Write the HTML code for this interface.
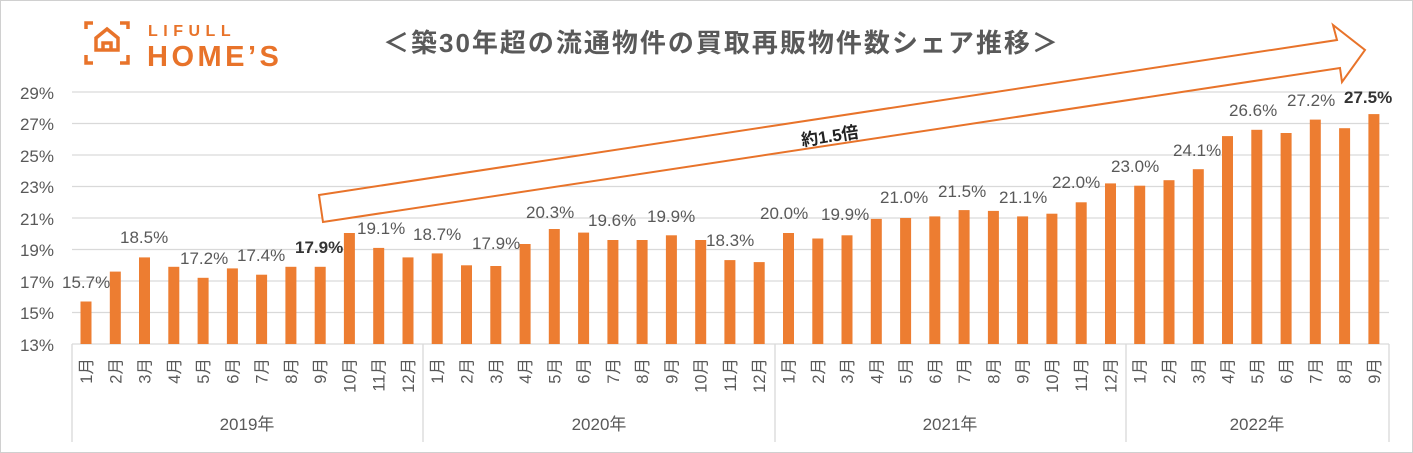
<!DOCTYPE html>
<html><head><meta charset="utf-8"><style>
body{margin:0;background:#fff}
svg{display:block}
text{font-family:"Liberation Sans","Noto Sans CJK JP",sans-serif}
</style></head><body>
<svg width="1413" height="453" xmlns="http://www.w3.org/2000/svg">
<rect x="0.5" y="0.5" width="1412" height="452" fill="#fff" stroke="#d0d0d0"/>
<g stroke="#E8732A" stroke-width="3.5" fill="none">
<path d="M86 29V23H93M120 23H128V29M86 55V63H93M120 63H128V55"/>
<path d="M96 50V38L107 29L118 38V50Z"/>
<path d="M103 50V43H111V50"/>
</g>
<text x="148" y="36" font-size="16" font-weight="bold" fill="#E8732A" letter-spacing="5.5">LIFULL</text>
<text x="147" y="66" font-size="29" font-weight="bold" fill="#E8732A" letter-spacing="3.5">HOME’S</text>
<text x="383" y="52" font-size="26" font-weight="bold" fill="#595959" letter-spacing="2">＜築30年超の流通物件の買取再販物件数シェア推移＞</text>
<g stroke="#d9d9d9" stroke-width="1.3">
<line x1="72" x2="1389" y1="92" y2="92"/><line x1="72" x2="1389" y1="123.5" y2="123.5"/>
<line x1="72" x2="1389" y1="155" y2="155"/><line x1="72" x2="1389" y1="186.5" y2="186.5"/>
<line x1="72" x2="1389" y1="218" y2="218"/><line x1="72" x2="1389" y1="249.5" y2="249.5"/>
<line x1="72" x2="1389" y1="281" y2="281"/><line x1="72" x2="1389" y1="312.5" y2="312.5"/>
<line x1="72" x2="1389" y1="344" y2="344"/>
<line x1="72" x2="72" y1="344" y2="442"/><line x1="423" x2="423" y1="344" y2="442"/>
<line x1="775" x2="775" y1="344" y2="442"/><line x1="1126" x2="1126" y1="344" y2="442"/>
<line x1="1389" x2="1389" y1="344" y2="442"/>
</g>
<g font-size="17" fill="#595959" text-anchor="end">
<text x="54" y="99">29%</text><text x="54" y="130">27%</text><text x="54" y="162">25%</text>
<text x="54" y="193">23%</text><text x="54" y="225">21%</text><text x="54" y="256">19%</text>
<text x="54" y="288">17%</text><text x="54" y="319">15%</text><text x="54" y="351">13%</text>
</g>
<g fill="#ED7D31">
<rect x="80.5" y="301.5" width="11" height="42.5"/>
<rect x="109.8" y="271.6" width="11" height="72.4"/>
<rect x="139" y="257.4" width="11" height="86.6"/>
<rect x="168.3" y="266.8" width="11" height="77.2"/>
<rect x="197.6" y="277.8" width="11" height="66.2"/>
<rect x="226.9" y="268.4" width="11" height="75.6"/>
<rect x="256.1" y="274.7" width="11" height="69.3"/>
<rect x="285.4" y="266.8" width="11" height="77.2"/>
<rect x="314.7" y="266.8" width="11" height="77.2"/>
<rect x="343.9" y="233" width="11" height="111"/>
<rect x="373.2" y="247.9" width="11" height="96.1"/>
<rect x="402.5" y="257.4" width="11" height="86.6"/>
<rect x="431.7" y="253.4" width="11" height="90.6"/>
<rect x="461" y="265.3" width="11" height="78.7"/>
<rect x="490.3" y="266" width="11" height="78"/>
<rect x="519.6" y="244" width="11" height="100"/>
<rect x="548.8" y="229" width="11" height="115"/>
<rect x="578.1" y="232.6" width="11" height="111.4"/>
<rect x="607.4" y="240" width="11" height="104"/>
<rect x="636.6" y="240" width="11" height="104"/>
<rect x="665.9" y="235.3" width="11" height="108.7"/>
<rect x="695.2" y="240" width="11" height="104"/>
<rect x="724.4" y="260.1" width="11" height="83.9"/>
<rect x="753.7" y="262.1" width="11" height="81.9"/>
<rect x="783" y="233" width="11" height="111"/>
<rect x="812.3" y="238.5" width="11" height="105.5"/>
<rect x="841.5" y="235.3" width="11" height="108.7"/>
<rect x="870.8" y="218.9" width="11" height="125.1"/>
<rect x="900.1" y="218" width="11" height="126"/>
<rect x="929.3" y="216.4" width="11" height="127.6"/>
<rect x="958.6" y="210.1" width="11" height="133.9"/>
<rect x="987.9" y="210.9" width="11" height="133.1"/>
<rect x="1017.1" y="216.4" width="11" height="127.6"/>
<rect x="1046.4" y="213.7" width="11" height="130.3"/>
<rect x="1075.7" y="202.3" width="11" height="141.7"/>
<rect x="1105" y="183.4" width="11" height="160.6"/>
<rect x="1134.2" y="185.7" width="11" height="158.3"/>
<rect x="1163.5" y="180.2" width="11" height="163.8"/>
<rect x="1192.8" y="169.2" width="11" height="174.8"/>
<rect x="1222" y="136.1" width="11" height="207.9"/>
<rect x="1251.3" y="129.8" width="11" height="214.2"/>
<rect x="1280.6" y="133" width="11" height="211"/>
<rect x="1309.8" y="119.6" width="11" height="224.4"/>
<rect x="1339.1" y="128.2" width="11" height="215.8"/>
<rect x="1368.4" y="114.1" width="11" height="229.9"/>
</g>
<g font-size="16.5" fill="#595959" text-anchor="end">
<text transform="translate(92,358) rotate(-90)">1月</text>
<text transform="translate(121.3,358) rotate(-90)">2月</text>
<text transform="translate(150.5,358) rotate(-90)">3月</text>
<text transform="translate(179.8,358) rotate(-90)">4月</text>
<text transform="translate(209.1,358) rotate(-90)">5月</text>
<text transform="translate(238.4,358) rotate(-90)">6月</text>
<text transform="translate(267.6,358) rotate(-90)">7月</text>
<text transform="translate(296.9,358) rotate(-90)">8月</text>
<text transform="translate(326.2,358) rotate(-90)">9月</text>
<text transform="translate(355.4,358) rotate(-90)">10月</text>
<text transform="translate(384.7,358) rotate(-90)">11月</text>
<text transform="translate(414,358) rotate(-90)">12月</text>
<text transform="translate(443.2,358) rotate(-90)">1月</text>
<text transform="translate(472.5,358) rotate(-90)">2月</text>
<text transform="translate(501.8,358) rotate(-90)">3月</text>
<text transform="translate(531.1,358) rotate(-90)">4月</text>
<text transform="translate(560.3,358) rotate(-90)">5月</text>
<text transform="translate(589.6,358) rotate(-90)">6月</text>
<text transform="translate(618.9,358) rotate(-90)">7月</text>
<text transform="translate(648.1,358) rotate(-90)">8月</text>
<text transform="translate(677.4,358) rotate(-90)">9月</text>
<text transform="translate(706.7,358) rotate(-90)">10月</text>
<text transform="translate(735.9,358) rotate(-90)">11月</text>
<text transform="translate(765.2,358) rotate(-90)">12月</text>
<text transform="translate(794.5,358) rotate(-90)">1月</text>
<text transform="translate(823.8,358) rotate(-90)">2月</text>
<text transform="translate(853,358) rotate(-90)">3月</text>
<text transform="translate(882.3,358) rotate(-90)">4月</text>
<text transform="translate(911.6,358) rotate(-90)">5月</text>
<text transform="translate(940.8,358) rotate(-90)">6月</text>
<text transform="translate(970.1,358) rotate(-90)">7月</text>
<text transform="translate(999.4,358) rotate(-90)">8月</text>
<text transform="translate(1028.6,358) rotate(-90)">9月</text>
<text transform="translate(1057.9,358) rotate(-90)">10月</text>
<text transform="translate(1087.2,358) rotate(-90)">11月</text>
<text transform="translate(1116.5,358) rotate(-90)">12月</text>
<text transform="translate(1145.7,358) rotate(-90)">1月</text>
<text transform="translate(1175,358) rotate(-90)">2月</text>
<text transform="translate(1204.3,358) rotate(-90)">3月</text>
<text transform="translate(1233.5,358) rotate(-90)">4月</text>
<text transform="translate(1262.8,358) rotate(-90)">5月</text>
<text transform="translate(1292.1,358) rotate(-90)">6月</text>
<text transform="translate(1321.3,358) rotate(-90)">7月</text>
<text transform="translate(1350.6,358) rotate(-90)">8月</text>
<text transform="translate(1379.9,358) rotate(-90)">9月</text>
</g>
<g font-size="17" fill="#595959" text-anchor="middle">
<text x="247" y="430">2019年</text><text x="599" y="430">2020年</text>
<text x="950" y="430">2021年</text><text x="1257" y="430">2022年</text>
</g>
<polygon points="319,195 1337,40 1333,25 1365,50 1342,82 1340,68 323,222" fill="#fff" stroke="#E8732A" stroke-width="2"/>
<text x="830" y="142" font-size="17" font-weight="bold" fill="#222" text-anchor="middle" transform="rotate(-8.7 830 137)">約1.5倍</text>
<g font-size="17" fill="#595959">
<text x="62" y="288">15.7%</text><text x="120" y="243">18.5%</text><text x="180" y="264">17.2%</text>
<text x="237" y="261">17.4%</text><text x="295" y="253" font-weight="bold" fill="#333">17.9%</text>
<text x="357" y="234">19.1%</text><text x="413" y="240">18.7%</text><text x="472" y="249">17.9%</text>
<text x="526" y="218">20.3%</text><text x="588" y="226">19.6%</text><text x="647" y="222">19.9%</text>
<text x="706" y="246">18.3%</text><text x="760" y="219">20.0%</text><text x="821" y="220">19.9%</text>
<text x="880" y="203">21.0%</text><text x="938" y="197">21.5%</text><text x="999" y="203">21.1%</text>
<text x="1052" y="188">22.0%</text><text x="1111" y="172">23.0%</text><text x="1173" y="156">24.1%</text>
<text x="1229" y="116">26.6%</text><text x="1287" y="106">27.2%</text>
<text x="1344" y="103" font-weight="bold" fill="#333">27.5%</text>
</g>
</svg>
</body></html>
